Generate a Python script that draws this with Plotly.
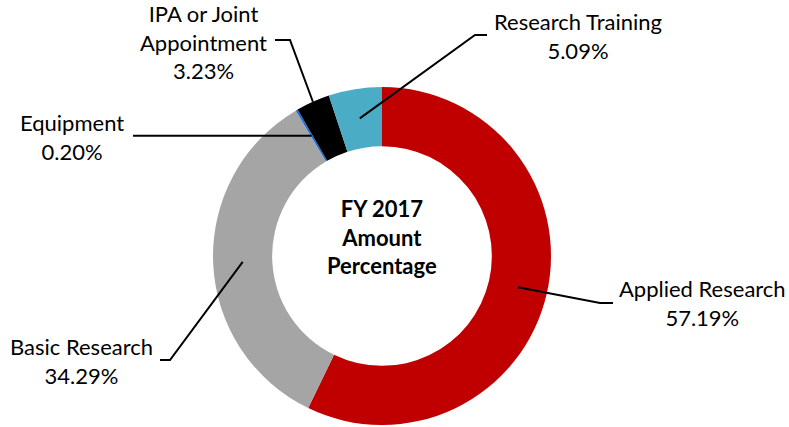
import math
import plotly.graph_objects as go

W, H = 789, 427

labels = ["Applied Research", "Basic Research", "Equipment",
          "IPA or Joint Appointment", "Research Training"]
values = [57.19, 34.29, 0.20, 3.23, 5.09]
colors = ["#C00000", "#A5A5A5", "#1F6FE0", "#000000", "#4BACC6"]
label_text = ["Applied Research<br>57.19%", "Basic Research<br>34.29%",
              "Equipment<br>0.20%", "IPA or Joint<br>Appointment<br>3.23%",
              "Research Training<br>5.09%"]

# layout of the ring in pixels
cx, cy, R, hole = 382, 256, 169, 0.65

# label centres and leader-line elbows (pixels)
label_pos = [(702, 303), (81, 361), (72, 137), (203, 42), (578, 36)]
elbows = [[(600, 303), (613, 303)],
          [(170, 360), (160, 360)],
          [None, (133, None)],
          [(290, 40), (275, 40)],
          [(475, 35), (487, 35)]]
start_radius = ["mid", "mid", "mid", "outer", "mid"]


def px(x, y):
    return x / W, 1 - y / H


fig = go.Figure(go.Pie(
    labels=labels, values=values, sort=False, direction="clockwise",
    rotation=0, hole=hole, textinfo="none", hoverinfo="label+percent",
    marker=dict(colors=colors, line=dict(width=0)),
    domain=dict(x=[(cx - R) / W, (cx + R) / W],
                y=[1 - (cy + R) / H, 1 - (cy - R) / H]),
    showlegend=False,
))

total = sum(values)
cum = 0
shapes = []
annotations = []
for i, v in enumerate(values):
    mid = (cum + v / 2) / total
    cum += v
    th = 2 * math.pi * mid
    r = R if start_radius[i] == "outer" else R * (1 + hole) / 2
    sx, sy = cx + r * math.sin(th), cy - r * math.cos(th)
    pts = [(sx, sy)]
    for p in elbows[i]:
        if p is None:
            continue
        pts.append((p[0], sy if p[1] is None else p[1]))
    path = ""
    for j, (x, y) in enumerate(pts):
        X, Y = px(x, y)
        path += ("M" if j == 0 else " L") + f" {X:.5f},{Y:.5f}"
    shapes.append(dict(type="path", path=path, xref="paper", yref="paper",
                       line=dict(color="black", width=2)))
    lx, ly = px(*label_pos[i])
    annotations.append(dict(x=lx, y=ly, xref="paper", yref="paper",
                            text=label_text[i], showarrow=False,
                            xanchor="center", yanchor="middle",
                            font=dict(family="Lato", size=22, color="black")))

X, Y = px(382, 237)
annotations.append(dict(x=X, y=Y, xref="paper", yref="paper",
                        text="<b>FY 2017<br>Amount<br>Percentage</b>",
                        showarrow=False, xanchor="center", yanchor="middle",
                        font=dict(family="Lato", size=22, color="black")))

fig.update_layout(
    width=W, height=H, margin=dict(l=0, r=0, t=0, b=0),
    paper_bgcolor="white", plot_bgcolor="white",
    shapes=shapes, annotations=annotations,
)

fig.write_html("out.html", config={"displayModeBar": False},
               post_script="document.body.style.margin='0';")
